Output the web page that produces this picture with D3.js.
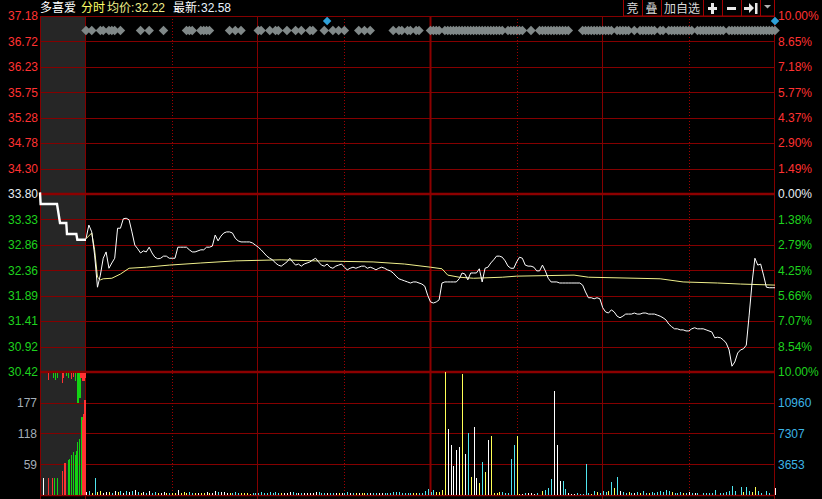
<!DOCTYPE html>
<html><head><meta charset="utf-8">
<script src="https://cdn.jsdelivr.net/npm/d3@7/dist/d3.min.js"></script>
<style>html,body{margin:0;padding:0;background:#000;overflow:hidden}</style>
</head><body><svg id="c" width="822" height="499"></svg>
<script>
// ---------------- data ----------------
const stockName = "多喜爱";
const headerAvg = "32.22";
const headerLast = "32.58";
const prevClose = 33.80;
const priceLabels = ["37.18","36.72","36.23","35.75","35.28","34.78","34.30","33.80","33.33","32.86","32.36","31.89","31.41","30.92","30.42"];
const pctLabels = ["10.00%","8.65%","7.18%","5.77%","4.37%","2.90%","1.49%","0.00%","1.38%","2.79%","4.25%","5.66%","7.07%","8.54%","10.00%"];
const volLeftTicks = [59,118,177];
const volLeftTop = 236;
const volRightTicks = [3653,7307,10960];
const volRightTop = 14613;

// minute prices 09:30 .. 15:00 (241 points)
const prices = [
32.95,33.21,33.08,32.64,32.03,32.26,32.58,32.70,32.39,32.49,
32.58,33.15,33.15,33.33,33.34,33.31,33.08,32.83,32.76,32.68,
32.72,32.70,32.79,32.68,32.60,32.57,32.58,32.62,32.62,32.58,
32.58,32.58,32.79,32.79,32.79,32.79,32.74,32.70,32.70,32.72,
32.74,32.74,32.79,32.79,32.81,33.02,32.91,33.00,33.06,33.08,
33.08,33.06,32.96,32.91,32.89,32.89,32.89,32.89,32.87,32.83,
32.79,32.74,32.68,32.62,32.58,32.55,32.49,32.45,32.43,32.47,
32.51,32.58,32.51,32.45,32.47,32.43,32.47,32.49,32.51,32.55,
32.58,32.51,32.45,32.43,32.47,32.41,32.39,32.43,32.45,32.47,
32.41,32.36,32.39,32.41,32.39,32.41,32.43,32.43,32.39,32.41,
32.39,32.36,32.39,32.41,32.39,32.36,32.34,32.30,32.24,32.19,
32.17,32.15,32.13,32.11,32.13,32.13,32.11,32.09,32.05,31.88,
31.75,31.73,31.75,31.79,32.11,32.13,32.13,32.13,32.13,32.13,
32.19,32.30,32.28,32.17,32.30,32.30,32.30,32.38,32.13,32.39,
32.41,32.49,32.55,32.62,32.62,32.60,32.53,32.43,32.39,32.39,
32.51,32.60,32.58,32.45,32.43,32.43,32.41,32.34,32.34,32.45,
32.34,32.20,32.13,32.13,32.13,32.11,32.11,32.11,32.11,32.11,
32.11,32.11,32.11,32.07,31.94,31.83,31.83,31.81,31.83,31.81,
31.64,31.56,31.54,31.60,31.56,31.48,31.45,31.48,31.52,31.52,
31.52,31.54,31.52,31.52,31.54,31.54,31.52,31.52,31.52,31.50,
31.48,31.45,31.41,31.33,31.28,31.24,31.24,31.22,31.22,31.20,
31.20,31.24,31.26,31.24,31.24,31.24,31.22,31.20,31.18,31.07,
31.08,31.07,31.03,30.97,30.84,30.53,30.61,30.78,30.84,30.86,
30.93,31.50,32.11,32.58,32.45,32.47,32.26,32.03,32.02,32.02,
32.02];

// average price line (minute, price)
const avgMinutes = [0,2,3,4,5,6,9,12,15,21,29,40,52,68,80,100,111,120,124,126,130,135,145,150,170,175,200,208,220,228,240];
const avgPrices  = [32.95,33.06,32.74,32.22,32.17,32.19,32.20,32.28,32.39,32.41,32.45,32.49,32.53,32.55,32.53,32.51,32.47,32.41,32.38,32.26,32.22,32.20,32.22,32.24,32.26,32.22,32.19,32.13,32.11,32.09,32.07];

// minute volumes (lots)
const volumes = [
360,480,240,2020,360,480,240,360,360,240,
480,360,480,240,480,360,480,600,300,240,
360,240,480,240,360,240,240,360,240,240,
240,240,600,240,360,240,360,240,240,240,
240,240,360,240,240,480,360,360,360,240,
240,240,360,240,240,240,240,120,240,240,
240,360,240,240,360,240,360,240,240,240,
240,360,360,240,240,240,240,240,240,240,
360,360,240,240,240,240,240,240,240,240,
240,360,240,240,240,240,240,240,240,240,
240,240,240,240,240,240,240,360,360,360,
240,240,240,240,240,240,240,270,475,713,
356,594,356,356,594,14613,7841,5940,3445,5346,
5702,14375,4871,7366,2138,8078,2020,1426,3920,2732,
6534,7009,273,238,356,356,238,238,4277,5940,
7009,154,154,238,238,238,119,238,0,475,
594,832,1901,12355,5940,1663,1663,713,238,119,
119,238,119,119,3683,238,119,475,356,238,
475,356,475,1544,832,2138,475,360,240,360,
240,240,360,240,480,240,240,360,240,360,
480,360,600,480,360,240,240,360,240,240,
360,240,240,240,0,273,202,273,202,594,
0,273,202,392,511,1069,475,0,986,392,
986,475,392,986,475,273,0,475,202,0,
796];
// u = up (white), d = down (cyan), e = flat (yellow)
const volDirs = ("udedeeuued"+"uedududude"+"ududdeuued"+"eeueeeddeu"+"eeueuuduuu"+
 "edddeeeedd"+"ddddddddeu"+"uudduduuuu"+"uddduddueu"+"ddudeueedu"+
 "dduudddddd"+"ddddeedddd"+"ddeeeeuuuu"+"ueudeuuede"+"ueeeeddddd"+
 "eeuduuudee"+"ddduuudduu"+"udddddeded"+"ddededudde"+"dudeddeddd"+
 "ddddeddded"+"ududeddddd"+"eddddddede"+"ddeeddeddeu").split("");

// call auction 09:15-09:25 (seconds since 09:15)
const auctionPriceTimes = [0,8,222,261,343,352,474,487,600];
const auctionPrices     = [33.83,33.61,33.61,33.25,33.25,33.04,33.04,32.93,32.93];
const auctionBarTimes = [35,108,153,187,218,283,313,330,361,382,404,427,457,470,487,505,531,544,557,578];
const auctionBarVols  = [32,32,32,32,32,46,61,61,67,70,76,82,76,84,101,107,150,143,156,183];
const auctionBarSide  = ["w","r","r","g","g","r","r","r","g","g","g","g","g","g","g","g","g","r","r","r"];
const unmatchedTimes = [108,166,196,218,283,304,339,369,400,427,457,487,505,522,544,565,578];
const unmatchedVols  = [13,10,13,10,19,10,6,10,11,8,15,57,48,10,15,15,10];
const unmatchedSide  = ["r","g","g","g","r","r","g","g","r","r","g","g","g","r","r","r","r"];

// event marker rows (minute indices)
const eventMinutes = [0,2,5,6,8,9,10,12,19,22,27,35,36,37,40,41,42,43,50,52,54,60,61,64,66,67,70,73,75,78,79,
 83,86,88,90,95,97,99,107,109,110,112,113,115,116,
 120,121,122,123,125,126,127,128,129,130,131,132,133,134,135,136,137,138,139,140,141,142,143,144,145,147,148,149,150,151,152,
 155,158,159,160,161,162,163,164,165,166,167,168,
 173,174,175,176,177,178,179,180,181,182,183,185,186,187,188,189,191,193,194,195,196,197,198,200,201,203,204,
 205,206,207,208,209,210,211,213,214,215,216,217,218,219,220,221,222,224,225,226,227,228,229,230,231,232,233,
 234,235,236,237,238,239,240];
const blueMarkMinutes = [84,240];

// time grid (minutes from 09:30)
const solidMinutes = [0,60,180,240];
const dottedMinutes = [30,90,150,210];
const middayMinute = 120;

// ---------------- drawing ----------------
const RED="#ff3232", GREEN="#1ed21e", WHITE="#e8eef4", GRID="#840000", THICK="#8c0000";
const NUM_FONT='"Liberation Sans", Arial, sans-serif';
const CJK_FONT='"Liberation Sans", "Noto Sans CJK SC", sans-serif';
const svg = d3.select("#c");
const L=40, PRE=86, R=775, T=16, MID=372, B=495;

const x = d3.scaleLinear().domain([0,240]).range([PRE,R]);
const xa = d3.scaleLinear().domain([0,600]).range([L,PRE]);
const y = d3.scaleLinear().domain([prevClose*0.9, prevClose*1.1]).range([MID,T]);
const yPct = d3.scaleLinear().domain([-10,10]).range([MID,T]);
const yv = d3.scaleLinear().domain([0,volRightTop]).range([B,MID]);
const yvA = d3.scaleLinear().domain([0,volLeftTop]).range([B,MID]);
const yvH = d3.scaleLinear().domain([0,volLeftTop]).range([MID,B]);

svg.append("rect").attr("width",822).attr("height",499).attr("fill","#000");
svg.append("rect").attr("x",L).attr("y",T).attr("width",PRE-L).attr("height",B-T).attr("fill","#262626");

const [p0,p1] = y.domain();
const levels = d3.range(15).map(i => p1 - i*(p1-p0)/14);
const pctLevels = d3.range(15).map(i => 10 - i*20/14);

const grid = svg.append("g");
grid.selectAll("line.h").data(levels.filter((d,i)=>i!==7 && i!==14)).join("line")
  .attr("x1",L).attr("x2",R).attr("y1",d=>Math.round(y(d))+0.5).attr("y2",d=>Math.round(y(d))+0.5)
  .attr("stroke",GRID).attr("stroke-width",1);
grid.selectAll("line.v").data(volRightTicks).join("line").attr("class","v")
  .attr("x1",L).attr("x2",R).attr("y1",d=>Math.round(yv(d))+0.5).attr("y2",d=>Math.round(yv(d))+0.5)
  .attr("stroke",GRID).attr("stroke-width",1);
grid.append("line").attr("x1",L).attr("x2",R).attr("y1",B+0.5).attr("y2",B+0.5).attr("stroke",GRID).attr("stroke-width",1.5);
grid.selectAll("line.s").data(solidMinutes).join("line").attr("class","s")
  .attr("x1",d=>Math.round(x(d))-0.5).attr("x2",d=>Math.round(x(d))-0.5).attr("y1",T).attr("y2",499)
  .attr("stroke",GRID).attr("stroke-width",1);
grid.append("line").attr("x1",L+0.5).attr("x2",L+0.5).attr("y1",T).attr("y2",499).attr("stroke",GRID);
grid.selectAll("line.d").data(dottedMinutes).join("line").attr("class","d")
  .attr("x1",d=>Math.round(x(d))+0.5).attr("x2",d=>Math.round(x(d))+0.5).attr("y1",T).attr("y2",B)
  .attr("stroke","#a00000").attr("stroke-width",1).attr("stroke-dasharray","1,2");
grid.append("line").attr("x1",x(middayMinute)).attr("x2",x(middayMinute)).attr("y1",T).attr("y2",B)
  .attr("stroke",THICK).attr("stroke-width",2);
grid.append("line").attr("x1",L).attr("x2",R).attr("y1",y(prevClose)).attr("y2",y(prevClose))
  .attr("stroke",THICK).attr("stroke-width",2.6);
grid.append("line").attr("x1",L).attr("x2",R).attr("y1",MID).attr("y2",MID)
  .attr("stroke",THICK).attr("stroke-width",2.6);
grid.append("line").attr("x1",L).attr("x2",R).attr("y1",T+0.5).attr("y2",T+0.5).attr("stroke",GRID);

// volume bars
const volColor = {u:"#ffffff", d:"#50e6f0", e:"#ffff55"};
svg.append("g").attr("shape-rendering","crispEdges")
  .selectAll("rect").data(volumes.map((v,i)=>({i,v,c:volDirs[i]})).filter(d=>d.v>0)).join("rect")
  .attr("x",d=>Math.round(x(d.i))).attr("width",1)
  .attr("y",d=>Math.round(yv(d.v))).attr("height",d=>Math.max(1,B-Math.round(yv(d.v))))
  .attr("fill",d=>volColor[d.c]);

// auction bars
const sideColor = {r:"#ff3232", g:"#14d214", w:"#ffffff"};
svg.append("g").attr("shape-rendering","crispEdges")
  .selectAll("rect").data(auctionBarTimes.map((t,i)=>({t,v:auctionBarVols[i],s:auctionBarSide[i]}))).join("rect")
  .attr("x",d=>Math.round(xa(d.t))).attr("width",d=>d.t>520?2:1)
  .attr("y",d=>Math.round(yvA(d.v))).attr("height",d=>B-Math.round(yvA(d.v)))
  .attr("fill",d=>sideColor[d.s]);
svg.append("g").attr("shape-rendering","crispEdges")
  .selectAll("rect").data(unmatchedTimes.map((t,i)=>({t,v:unmatchedVols[i],s:unmatchedSide[i]}))).join("rect")
  .attr("x",d=>Math.round(xa(d.t))).attr("width",d=>d.t>470?2:1)
  .attr("y",MID+1).attr("height",d=>Math.round(yvH(d.v)-MID))
  .attr("fill",d=>sideColor[d.s]);

// auction price line
svg.append("path").datum(auctionPriceTimes.map((t,i)=>[t,auctionPrices[i]]))
  .attr("d",d3.line().x(d=>xa(d[0])).y(d=>y(d[1])))
  .attr("fill","none").attr("stroke","#fff").attr("stroke-width",2.4);

// average line
svg.append("path").datum(avgMinutes.map((m,i)=>[m,avgPrices[i]]))
  .attr("d",d3.line().x(d=>x(d[0])).y(d=>y(d[1])))
  .attr("fill","none").attr("stroke","#f0f08c").attr("stroke-width",1);
// price line
svg.append("path").datum(prices)
  .attr("d",d3.line().x((d,i)=>x(i)).y(d=>y(d)))
  .attr("fill","none").attr("stroke","#fff").attr("stroke-width",1);

// event diamonds
const dia = (cx,cy,w,h)=>`M${cx-w/2},${cy}L${cx},${cy-h/2}L${cx+w/2},${cy}L${cx},${cy+h/2}Z`;
svg.append("g").selectAll("path").data(eventMinutes).join("path")
  .attr("d",m=>dia(x(m),30.5,9.5,9.5)).attr("fill","#808888");
svg.append("g").selectAll("path").data(blueMarkMinutes).join("path")
  .attr("d",m=>dia(x(m),21,8.5,8.5)).attr("fill","#2ea0d8");

// axes
function styleAxis(g, colorFn){
  g.select(".domain").remove();
  g.selectAll("text").attr("fill",colorFn).style("font-family",NUM_FONT).style("font-size","12px");
}
const gL = svg.append("g").attr("transform",`translate(${L},0)`)
  .call(d3.axisLeft(y).tickValues(levels).tickFormat((d,i)=>priceLabels[i]).tickSize(0).tickPadding(2));
styleAxis(gL,(d,i)=> i<7?RED:(i===7?WHITE:GREEN));
const gR = svg.append("g").attr("transform",`translate(${R},0)`)
  .call(d3.axisRight(yPct).tickValues(pctLevels).tickFormat((d,i)=>pctLabels[i]).tickSize(0).tickPadding(3));
styleAxis(gR,(d,i)=> i<7?RED:(i===7?WHITE:GREEN));
const gVL = svg.append("g").attr("transform",`translate(${L},0)`)
  .call(d3.axisLeft(yvA).tickValues(volLeftTicks).tickFormat(d=>String(d)).tickSize(0).tickPadding(3));
styleAxis(gVL,()=>"#a4aeb8");
const gVR = svg.append("g").attr("transform",`translate(${R},0)`)
  .call(d3.axisRight(yv).tickValues(volRightTicks).tickFormat(d=>String(d)).tickSize(0).tickPadding(3));
styleAxis(gVR,()=>"#3cb4e6");

// header
const hdr = svg.append("g").style("font-family",CJK_FONT).style("font-size","12px");
const htxt = (xx,col,t)=>hdr.append("text").attr("x",xx).attr("y",11.5).attr("fill",col).text(t);
htxt(40,"#ffffff",stockName);
htxt(81,"#ffff66","分时");
htxt(107,"#f0f08c","均价:");
htxt(135,"#f0f08c",headerAvg);
htxt(173,"#ffffff","最新:");
htxt(201,"#e8f4ff",headerLast);

// toolbar
const tb = svg.append("g");
tb.append("rect").attr("x",623.5).attr("y",-1).attr("width",151).attr("height",17).attr("fill","none").attr("stroke","#a00000");
[642,661,703,722,741,760].forEach(px=>tb.append("line").attr("x1",px+0.5).attr("x2",px+0.5).attr("y1",0).attr("y2",16).attr("stroke","#a00000"));
const tbt = tb.append("g").style("font-family",'"Noto Sans CJK SC", sans-serif').style("font-size","12px").attr("fill","#d8d8d8").attr("text-anchor","middle");
tbt.append("text").attr("x",632.5).attr("y",12.5).text("竞");
tbt.append("text").attr("x",651.5).attr("y",12.5).text("叠");
tbt.append("text").attr("x",682).attr("y",12.5).text("加自选");
tb.append("path").attr("d","M708,7h9v3h-9zM711,3h3v11h-3z").attr("fill","#e8e8e8");
tb.append("path").attr("d","M727,7h9v3h-9z").attr("fill","#e8e8e8");
tb.append("path").attr("d","M744,7h6v3h-6zM749,3l5,5l-5,5zM755,3h2.5v11h-2.5z").attr("fill","#e8e8e8");
tb.append("path").attr("d","M764,5h7l-3.5,3.5z").attr("fill","#b0b0b0");
</script></body></html>
